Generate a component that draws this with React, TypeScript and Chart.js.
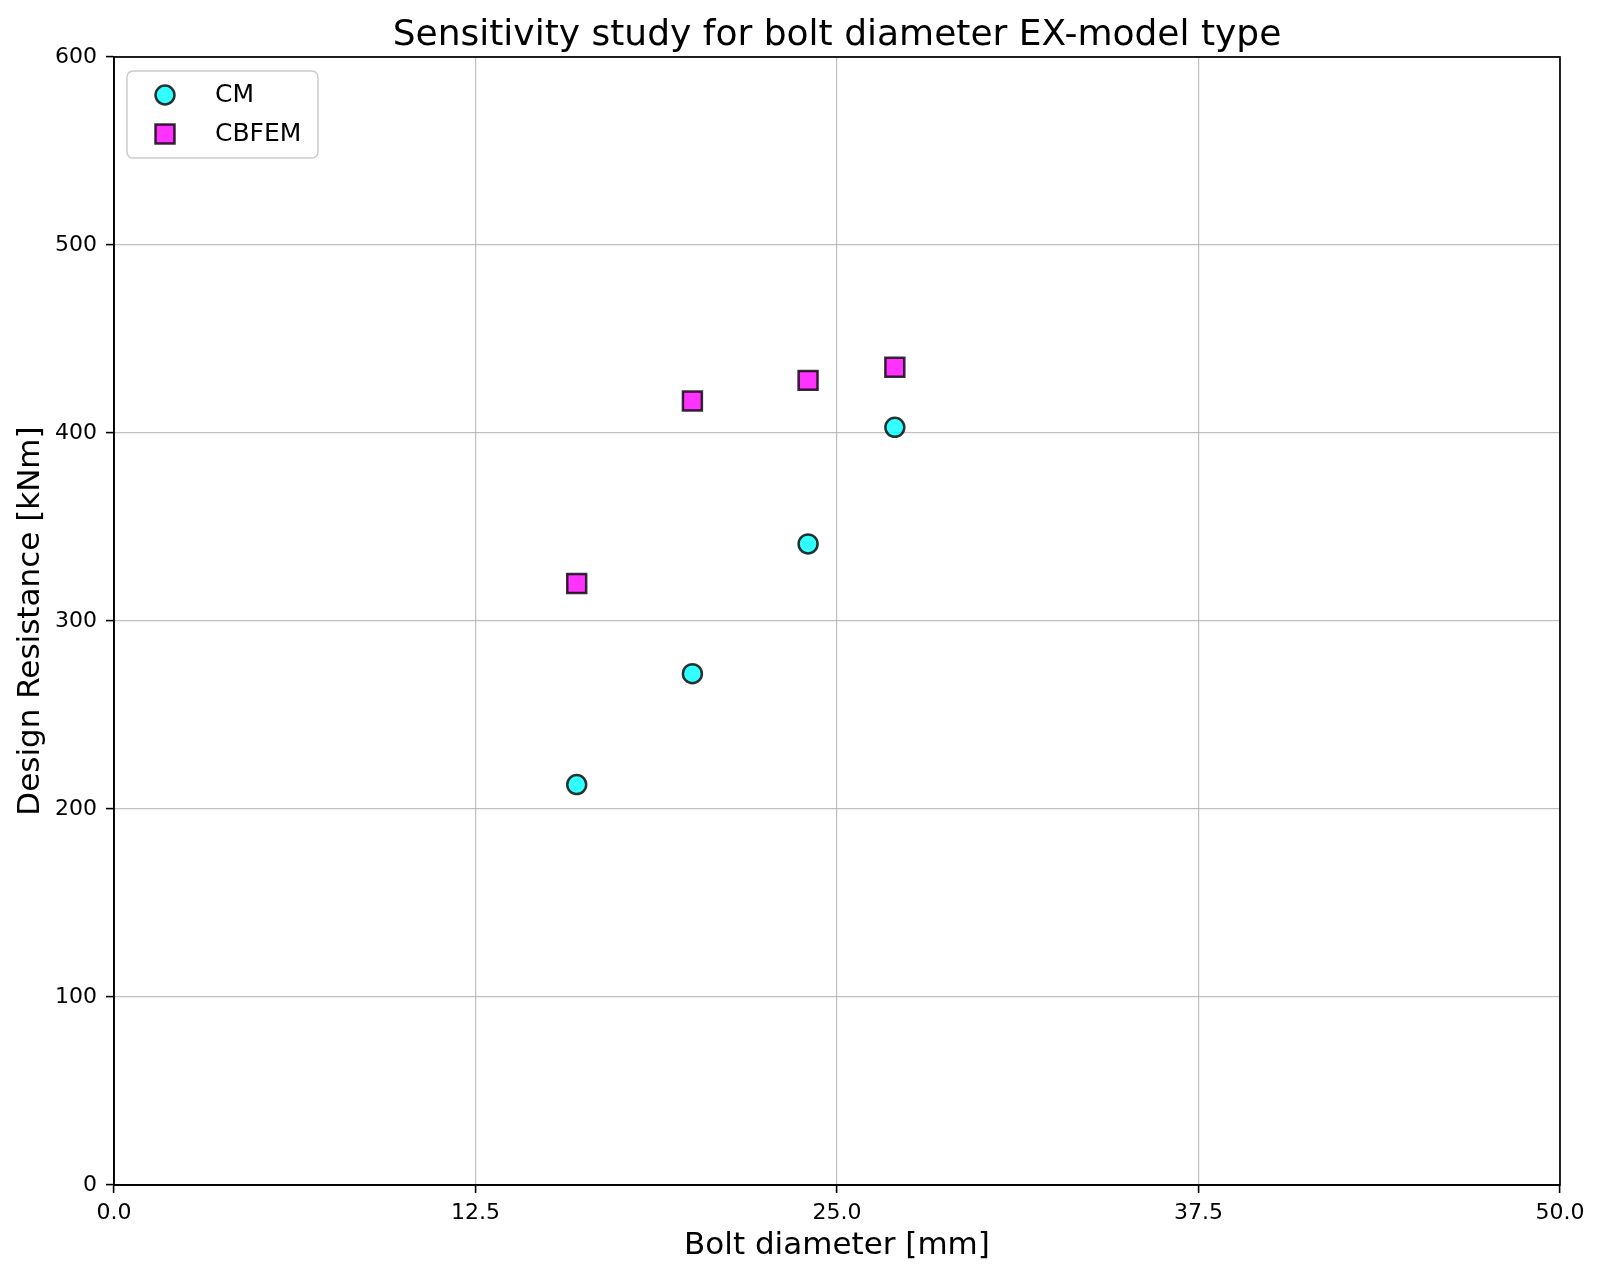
import React, { useEffect, useRef } from "react";
import { Chart, registerables } from "chart.js";

Chart.register(...registerables);

const boltDiameters = [16, 20, 24, 27];
const cmValues = [213, 272, 341, 403];
const cbfemValues = [320, 417, 428, 435];
const xTicks = [0, 12.5, 25, 37.5, 50];
const yTicks = [0, 100, 200, 300, 400, 500, 600];
const chartTitle = "Sensitivity study for bolt diameter EX-model type";

const FONT = "'DejaVu Sans', sans-serif";
const EDGE = "rgba(0,0,0,0.8)";

const framePlugin = {
  id: "frame",
  afterDraw(chart: any) {
    const { ctx, chartArea } = chart;
    ctx.save();
    ctx.strokeStyle = "#000";
    ctx.lineWidth = 1.7;
    ctx.strokeRect(chartArea.left, chartArea.top, chartArea.right - chartArea.left, chartArea.bottom - chartArea.top);
    ctx.fillStyle = "#000";
    ctx.font = `36px ${FONT}`;
    ctx.textAlign = "center";
    ctx.textBaseline = "middle";
    ctx.fillText(chartTitle, (chartArea.left + chartArea.right) / 2, 36);
    ctx.restore();
  },
};

const legendPlugin = {
  id: "customLegend",
  afterDatasetsDraw(chart: any) {
    const { ctx, chartArea } = chart;
    const x0 = chartArea.left + 13;
    const y0 = chartArea.top + 14;
    const w = 191;
    const h = 87;
    ctx.save();
    ctx.fillStyle = "rgba(255,255,255,0.8)";
    ctx.strokeStyle = "#cccccc";
    ctx.lineWidth = 1.5;
    ctx.beginPath();
    (ctx as any).roundRect(x0, y0, w, h, 6);
    ctx.fill();
    ctx.stroke();
    chart.data.datasets.forEach((ds: any, i: number) => {
      const cy = y0 + 24 + i * 39;
      const cx = x0 + 38;
      ctx.fillStyle = ds.backgroundColor;
      ctx.strokeStyle = ds.borderColor;
      ctx.lineWidth = ds.borderWidth;
      ctx.beginPath();
      if (ds.pointStyle === "rect") {
        ctx.rect(cx - 9.5, cy - 9.5, 19, 19);
      } else {
        ctx.arc(cx, cy, 9.5, 0, Math.PI * 2);
      }
      ctx.fill();
      ctx.stroke();
      ctx.fillStyle = "#000";
      ctx.font = `25px ${FONT}`;
      ctx.textBaseline = "middle";
      ctx.textAlign = "left";
      ctx.fillText(ds.label, x0 + 88, cy);
    });
    ctx.restore();
  },
};

export default function App() {
  const ref = useRef<HTMLCanvasElement>(null);
  useEffect(() => {
    document.body.style.margin = "0";
    const canvas = ref.current!;
    const grid = {
      color: "rgba(176,176,176,0.8)",
      lineWidth: 1.2,
      tickColor: "#000",
      tickLength: 8,
      tickWidth: 1.6,
    };
    const chart = new Chart(canvas, {
      type: "scatter",
      data: {
        datasets: [
          {
            label: "CM",
            data: boltDiameters.map((x, i) => ({ x, y: cmValues[i] })),
            backgroundColor: "rgba(0,255,255,0.8)",
            borderColor: EDGE,
            borderWidth: 2.5,
            pointStyle: "circle",
            pointRadius: 9.5,
            pointHoverRadius: 9.5,
          },
          {
            label: "CBFEM",
            data: boltDiameters.map((x, i) => ({ x, y: cbfemValues[i] })),
            backgroundColor: "rgba(255,0,255,0.8)",
            borderColor: EDGE,
            borderWidth: 2.5,
            pointStyle: "rect",
            pointRadius: 13.4,
            pointHoverRadius: 13.4,
          },
        ],
      },
      options: {
        animation: false,
        responsive: false,
        devicePixelRatio: 1,
        layout: { padding: { left: 0, right: 40, top: 57, bottom: 0 } },
        plugins: {
          legend: { display: false },
          tooltip: { enabled: false },
          title: { display: false },
        },
        scales: {
          x: {
            type: "linear",
            min: 0,
            max: 50,
            afterBuildTicks: (s: any) => {
              s.ticks = xTicks.map((v) => ({ value: v }));
            },
            afterFit: (s: any) => {
              s.height = 94;
            },
            ticks: {
              color: "#000",
              font: { family: FONT, size: 22 },
              padding: 7,
              callback: (v: any) => Number(v).toFixed(1),
              maxRotation: 0,
            },
            grid,
            border: { color: "#000", width: 1.7 },
            title: {
              display: true,
              text: "Bolt diameter [mm]",
              color: "#000",
              font: { family: FONT, size: 31, lineHeight: 1.2 },
              padding: { top: 0, bottom: 14 },
            },
          },
          y: {
            type: "linear",
            min: 0,
            max: 600,
            afterBuildTicks: (s: any) => {
              s.ticks = yTicks.map((v) => ({ value: v }));
            },
            afterFit: (s: any) => {
              s.width = 114;
            },
            ticks: {
              color: "#000",
              font: { family: FONT, size: 22 },
              padding: 9,
            },
            grid,
            border: { color: "#000", width: 1.7 },
            title: {
              display: true,
              text: "Design Resistance [kNm]",
              color: "#000",
              font: { family: FONT, size: 31, lineHeight: 1.2 },
              padding: { top: 12.5, bottom: 0 },
            },
          },
        },
      },
      plugins: [framePlugin, legendPlugin],
    });
    return () => chart.destroy();
  }, []);
  return <canvas ref={ref} width={1600} height={1279} style={{ display: "block", width: 1600, height: 1279 }} />;
}
